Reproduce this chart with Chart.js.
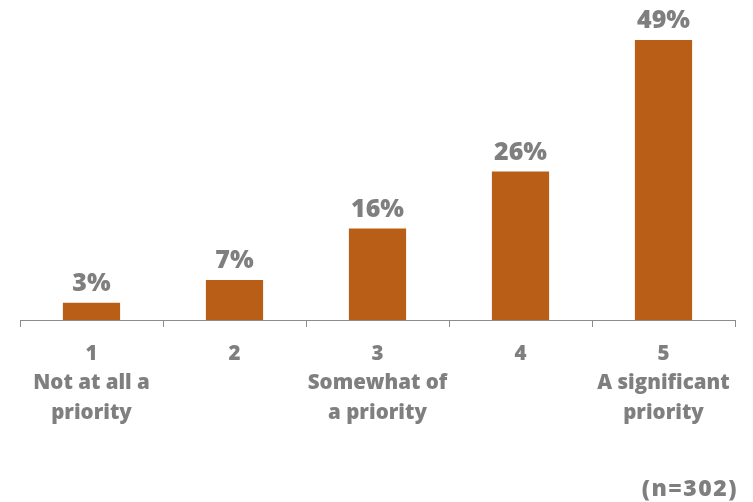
<!DOCTYPE html>
<html><head><meta charset="utf-8">
<script src="https://cdn.jsdelivr.net/npm/chart.js@4/dist/chart.umd.min.js"></script>
<style>
html,body{margin:0;padding:0;background:#fff;}
#wrap{position:relative;width:753px;height:502px;}
#note{position:absolute;right:15px;top:471px;font:800 23px "Open Sans",sans-serif;letter-spacing:1.5px;color:#7f7f7f;}
</style></head>
<body>
<div id="wrap"><canvas id="c" width="753" height="502"></canvas><div id="note">(n=302)</div></div>
<script>
const categories = [["1","Not at all a","priority"],["2"],["3","Somewhat of","a priority"],["4"],["5","A significant","priority"]];
const values = [3, 7, 16, 26, 49];
const valueLabels = ["3%","7%","16%","26%","49%"];

const barColor = "#B95E17";
const textColor = "#7f7f7f";

const labelPlugin = {
  id: "valLabels",
  afterDatasetsDraw(chart) {
    const ctx = chart.ctx;
    const meta = chart.getDatasetMeta(0);
    ctx.save();
    ctx.font = '800 25px "Open Sans", sans-serif';
    ctx.fillStyle = textColor;
    ctx.textAlign = "center";
    ctx.textBaseline = "middle";
    meta.data.forEach((bar, i) => {
      ctx.fillText(valueLabels[i], bar.x, bar.y - 19);
    });
    ctx.restore();
  }
};

new Chart(document.getElementById("c"), {
  type: "bar",
  data: {
    labels: categories,
    datasets: [{ data: values, backgroundColor: barColor, borderWidth: 0, categoryPercentage: 1, barPercentage: 0.4 }]
  },
  options: {
    responsive: false,
    animation: false,
    layout: { padding: { left: 20, right: 18, top: 8, bottom: 0 } },
    plugins: { legend: { display: false }, tooltip: { enabled: false } },
    scales: {
      y: { display: false, min: 0, max: 54.6 },
      x: {
        offset: true,
        afterFit(scale) { scale.height = 182; },
        grid: { offset: true, drawOnChartArea: false, drawTicks: true, tickLength: 7, color: "#8c8c8c", lineWidth: 1 },
        border: { display: true, color: "#8c8c8c", width: 1 },
        ticks: {
          color: textColor,
          padding: 12,
          maxRotation: 0,
          autoSkip: false,
          font: { family: '"Open Sans", sans-serif', size: 20.5, weight: "800", lineHeight: 1.44 }
        }
      }
    }
  },
  plugins: [labelPlugin]
});
</script>
</body></html>
